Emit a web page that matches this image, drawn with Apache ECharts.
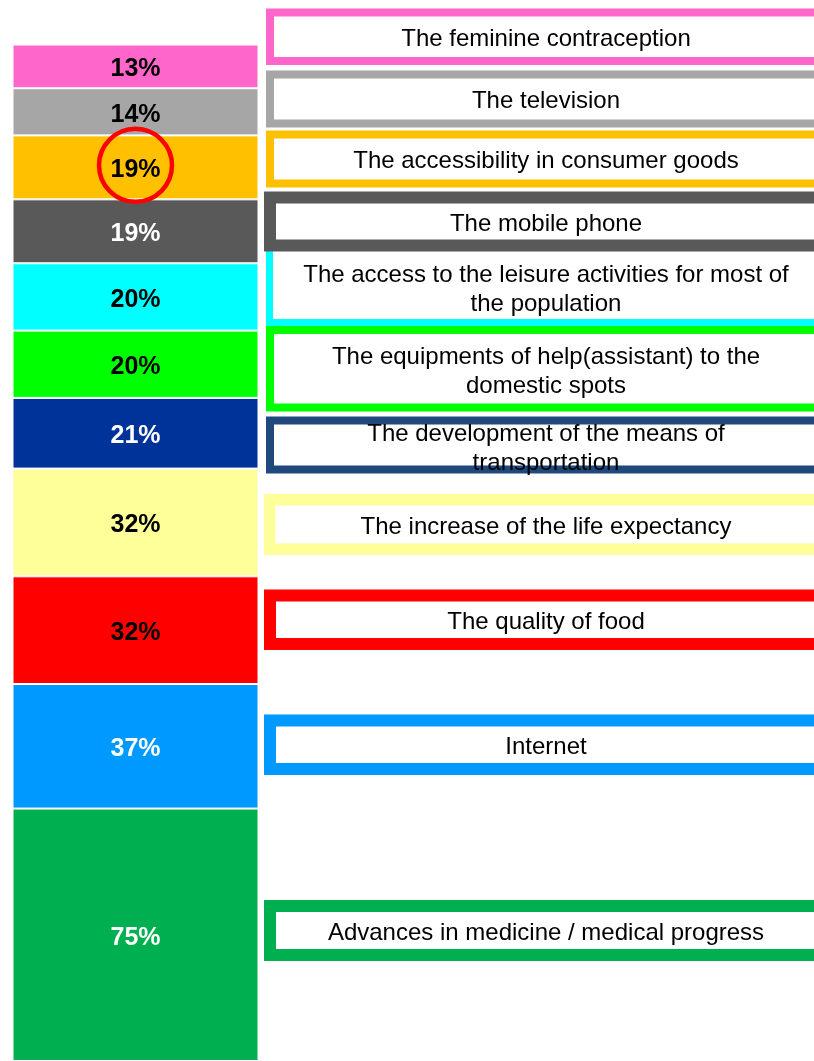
<!DOCTYPE html>
<html>
<head>
<meta charset="utf-8">
<script src="https://cdn.jsdelivr.net/npm/echarts@6/dist/echarts.min.js"></script>
<style>
  html, body { margin: 0; padding: 0; background: #fff; }
  #chart { width: 814px; height: 1061px; }
</style>
</head>
<body>
<div id="chart"></div>
<script>
// data
const categories = [
  'The feminine contraception',
  'The television',
  'The accessibility in consumer goods',
  'The mobile phone',
  'The access to the leisure activities for most of\nthe population',
  'The equipments of help(assistant) to the\ndomestic spots',
  'The development of the means of\ntransportation',
  'The increase of the life expectancy',
  'The quality of food',
  'Internet',
  'Advances in medicine / medical progress'
];
const values = [13, 14, 19, 19, 20, 20, 21, 32, 32, 37, 75];
const highlightIndex = 2; // circled value

// styles
const barColors = ['#FF66CC', '#A6A6A6', '#FFC000', '#595959', '#00FFFF', '#00FF00',
  '#003399', '#FFFF99', '#FF0000', '#0099FF', '#00B050'];
const boxColors = ['#FF66CC', '#A6A6A6', '#FFC000', '#595959', '#00FFFF', '#00FF00',
  '#1F497D', '#FFFF99', '#FF0000', '#0099FF', '#00B050'];
const labelColors = ['#000', '#000', '#000', '#fff', '#000', '#000',
  '#fff', '#000', '#000', '#fff', '#fff'];

// label box layout: [outer top, outer bottom, border, outer left, text centre y]
const boxLayout = [
  [8.5, 65, 8, 266, 39.5],
  [70.5, 127.5, 8, 266, 101],
  [130.5, 187.5, 8, 266, 161.5],
  [191.5, 251.5, 12, 264, 224],
  [240, 326, 7, 266, 290],
  [326, 411.5, 8, 266, 371.5],
  [416.5, 473.5, 8, 266, 448.5],
  [494, 555, 11.5, 264, 527.5],
  [589.5, 650, 12, 264, 622],
  [714.5, 775, 12, 264, 747.5],
  [900, 961, 12, 264, 933]
];
const boxRight = 828;

const total = values.reduce((a, b) => a + b, 0);

const chart = echarts.init(document.getElementById('chart'));

const series = values.map((v, i) => ({
  type: 'bar',
  name: categories[i],
  stack: 'all',
  data: [v],
  barWidth: '100%',
  itemStyle: { color: barColors[i], borderColor: '#fff', borderWidth: 1 },
  label: {
    show: true,
    position: 'inside',
    offset: [0, 3],
    formatter: '{c}%',
    color: labelColors[i],
    fontSize: 25,
    fontWeight: 'bold',
    fontFamily: 'Liberation Sans, Arial, sans-serif'
  },
  emphasis: { disabled: true },
  animation: false
}));

const boxes = [];
boxLayout.forEach((b, i) => {
  const [top, bottom, bw, left, ty] = b;
  boxes.push({
    type: 'rect',
    z: i === 3 ? 20 : 10,
    shape: { x: left + bw / 2, y: top + bw / 2, width: boxRight - left - bw, height: bottom - top - bw },
    style: { fill: '#fff', stroke: boxColors[i], lineWidth: bw }
  });
  boxes.push({
    type: 'text',
    z: 30,
    x: 546,
    y: ty,
    style: {
      text: categories[i],
      fill: '#000',
      fontSize: 24,
      lineHeight: 29,
      fontFamily: 'Liberation Sans, Arial, sans-serif',
      align: 'center',
      verticalAlign: 'middle'
    }
  });
});

chart.setOption({
  animation: false,
  grid: { left: 12.5, top: 44.5, width: 246, height: 1023 },
  xAxis: { type: 'category', data: [''], show: false },
  yAxis: { type: 'value', inverse: true, min: 0, max: total, show: false },
  series: series,
  graphic: boxes
});

// red circle around the highlighted value
const before = values.slice(0, highlightIndex).reduce((a, b) => a + b, 0);
const pt = chart.convertToPixel({ gridIndex: 0 }, [0, before + values[highlightIndex] / 2]);
chart.setOption({
  graphic: boxes.concat([{
    type: 'circle',
    z: 40,
    shape: { cx: pt[0], cy: pt[1] - 2, r: 36.5 },
    style: { fill: 'none', stroke: '#FF0000', lineWidth: 4.5 }
  }])
});
</script>
</body>
</html>
